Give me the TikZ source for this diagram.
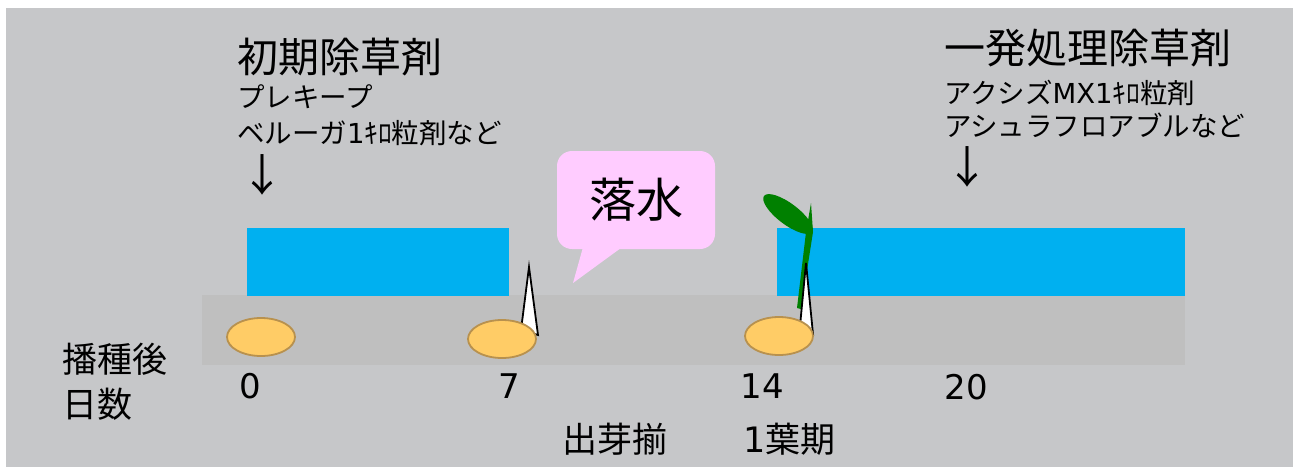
\documentclass[tikz,border=0pt]{standalone}
\usepackage{fontspec}
\setmainfont{Noto Sans CJK JP}
\newfontfamily\latin{DejaVu Sans}
\usetikzlibrary{shapes.geometric}

\definecolor{panel}{HTML}{C6C7C9}
\definecolor{soil}{HTML}{BFBFBF}
\definecolor{water}{HTML}{00B0F0}
\definecolor{bubble}{HTML}{FFCCFF}
\definecolor{seedfill}{HTML}{FFCC66}
\definecolor{seededge}{HTML}{B8914E}
\definecolor{leafgreen}{HTML}{008000}

\newcommand{\fs}[1]{\fontsize{#1pt}{#1pt}\selectfont}

\tikzset{
  txt/.style={inner sep=0pt, outer sep=0pt, text=black},
  title/.style={txt, anchor=north west, font=\fs{41}},
  note/.style={txt, anchor=north west, font=\fs{27.5}},
  axis/.style={txt, anchor=north west, font=\fs{35}},
  daynum/.style={txt, anchor=north, font=\latin\fs{34}},
  downarrow/.style={txt, font=\fs{44}},
  seed/.style={ellipse, draw=seededge, line width=1.8pt, fill=seedfill,
    minimum width=68pt, minimum height=38pt, inner sep=0pt},
  sprout/.style={draw=black, line width=1.8pt, fill=white, line join=miter},
  callout/.style={fill=bubble, rounded corners=15pt, minimum width=158pt,
    minimum height=98pt, inner sep=0pt, font=\fs{47}},
}

\begin{document}
\begin{tikzpicture}[x=1pt, y=-1pt]
\useasboundingbox (0,0) rectangle (1293,467);
% backdrop and field
\fill[panel] (6,8) rectangle (1293,467);
\fill[soil] (202,295) rectangle (1185,365);
\fill[water] (247,228) rectangle (509,296);
\fill[water] (777,228) rectangle (1185,296);

% drain-off speech bubble
\node[callout] (drain) at (636,200) {落水};
\coordinate (drainTip) at (573,283);
\fill[bubble] (drain.south) ++(-53,-2) -- ++(39,0) -- (drainTip) -- cycle;

% seedling at one-leaf stage: stem and leaf
\fill[leafgreen] (811,203) -- (813,232) -- (801,309) -- (797,308) -- (806,232) -- cycle;
\fill[leafgreen, rotate around={-37:(788,214)}] (788,214) ellipse [x radius=30, y radius=10.5];

% shoots
\coordinate (shootA) at (529,267);
\coordinate (shootB) at (806,263);
\filldraw[sprout] (shootA) -- (538,335) -- (521,330) -- cycle;
\filldraw[sprout] (shootB) -- (813,334) -- (800,326) -- cycle;

% seeds
\node[seed] (seed0) at (261,337) {};
\node[seed] (seed7) at (502,339) {};
\node[seed] (seed14) at (779,336) {};

% herbicide labels
\node[title] (early) at (237,38) {初期除草剤};
\node[note] (early1) at (237,85) {プレキープ};
\node[note] (early2) at (237,120) {ベルーガ{\latin 1}ｷﾛ粒剤など};
\node[downarrow] (earlyArrow) at (262,175) {↓};

\node[title] (oneshot) at (944,29) {一発処理除草剤};
\node[note] (oneshot1) at (944,80) {アクシズ{\latin MX1}ｷﾛ粒剤};
\node[note] (oneshot2) at (944,113) {アシュラフロアブルなど};
\node[downarrow] (oneshotArrow) at (967,167) {↓};

% day axis
\node[axis] (days1) at (62,343) {播種後};
\node[axis] (days2) at (62,388) {日数};
\node[daynum] (d0) at (250,373) {0};
\node[daynum] (d7) at (509,374) {7};
\node[daynum] (d14) at (762,374) {14};
\node[daynum] (d20) at (966,374) {20};
\node[axis] (emerge) at (562,423) {出芽揃};
\node[axis] (leaf1) at (743,423) {{\latin 1}葉期};
\end{tikzpicture}
\end{document}
